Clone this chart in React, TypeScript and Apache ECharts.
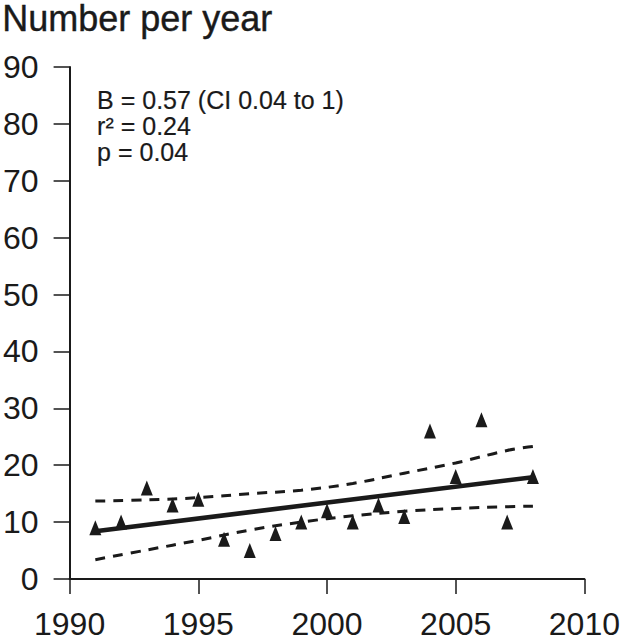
import React, { useEffect, useRef } from "react";
import * as echarts from "echarts";

const years = [1991, 1992, 1993, 1994, 1995, 1996, 1997, 1998, 1999, 2000, 2001, 2002, 2003, 2004, 2005, 2006, 2007, 2008];
const counts = [9, 10, 16, 13, 14, 7, 5, 8, 10, 12, 10, 13, 11, 26, 18, 28, 10, 18];

const fitYears = [1991, 2008];
const fitValues = [8.4, 17.9];

const ciYears = [1991, 1993, 1995, 1997, 1999, 2001, 2003, 2005, 2007, 2008];
const ciUpper = [13.7, 13.9, 14.3, 15.0, 15.6, 16.8, 18.6, 20.4, 22.6, 23.3];
const ciLower = [3.4, 5.1, 6.8, 8.6, 10.0, 11.1, 11.9, 12.4, 12.7, 12.8];

const xTicks = [1990, 1995, 2000, 2005, 2010];
const yTicks = [0, 10, 20, 30, 40, 50, 60, 70, 80, 90];

const titleText = "Number per year";
const statLines = ["B = 0.57 (CI 0.04 to 1)", "r\u00B2 = 0.24", "p = 0.04"];

const INK = "#1a1a1a";
const FONT = "'Liberation Sans', Arial, Helvetica, sans-serif";

export default function App() {
  const ref = useRef<HTMLDivElement>(null);

  useEffect(() => {
    if (!ref.current) return;
    const chart = echarts.init(ref.current, undefined, { renderer: "svg" });
    const pair = (xs: number[], ys: number[]) => xs.map((x, i) => [x, ys[i]]);

    chart.setOption({
      animation: false,
      backgroundColor: "#ffffff",
      textStyle: { fontFamily: FONT },
      grid: { left: 65, right: 36, top: 67, bottom: 55, containLabel: false },
      xAxis: {
        type: "value",
        min: xTicks[0],
        max: xTicks[xTicks.length - 1],
        interval: 5,
        axisLine: { show: true, lineStyle: { color: INK, width: 2 } },
        axisTick: { show: true, length: 15, lineStyle: { color: INK, width: 1.5 } },
        axisLabel: { color: INK, fontSize: 32, margin: 29, fontFamily: FONT, formatter: (v: number) => String(v) },
        splitLine: { show: false },
      },
      yAxis: {
        type: "value",
        min: yTicks[0],
        max: yTicks[yTicks.length - 1],
        interval: 10,
        axisLine: { show: true, lineStyle: { color: INK, width: 2 } },
        axisTick: { show: true, length: 16, lineStyle: { color: INK, width: 1.5 } },
        axisLabel: { color: INK, fontSize: 32, margin: 31, fontFamily: FONT },
        splitLine: { show: false },
      },
      graphic: [
        {
          type: "text",
          left: 2,
          top: 0,
          style: { text: titleText, fontSize: 36, lineHeight: 34, fontFamily: FONT, fill: INK, stroke: INK, lineWidth: 0.4 },
        },
        ...statLines.map((t, i) => ({
          type: "text",
          left: 97,
          top: 87 + i * 26,
          style: { text: t, fontSize: 25, fontFamily: FONT, fill: INK, stroke: INK, lineWidth: 0.2 },
        })),
      ],
      series: [
        {
          type: "line",
          data: pair(ciYears, ciUpper),
          smooth: 0.4,
          showSymbol: false,
          lineStyle: { color: INK, width: 3, type: [10, 8] },
          z: 2,
        },
        {
          type: "line",
          data: pair(ciYears, ciLower),
          smooth: 0.4,
          showSymbol: false,
          lineStyle: { color: INK, width: 3, type: [10, 8] },
          z: 2,
        },
        {
          type: "line",
          data: pair(fitYears, fitValues),
          showSymbol: false,
          lineStyle: { color: INK, width: 4.5 },
          z: 3,
        },
        {
          type: "scatter",
          data: pair(years, counts),
          symbol: "triangle",
          symbolSize: [12, 15],
          itemStyle: { color: INK, opacity: 1 },
          z: 4,
        },
      ],
    });
    return () => chart.dispose();
  }, []);

  return (
    <div
      ref={ref}
      style={{ position: "absolute", left: 0, top: 0, width: 623, height: 640, background: "#fff" }}
    />
  );
}
